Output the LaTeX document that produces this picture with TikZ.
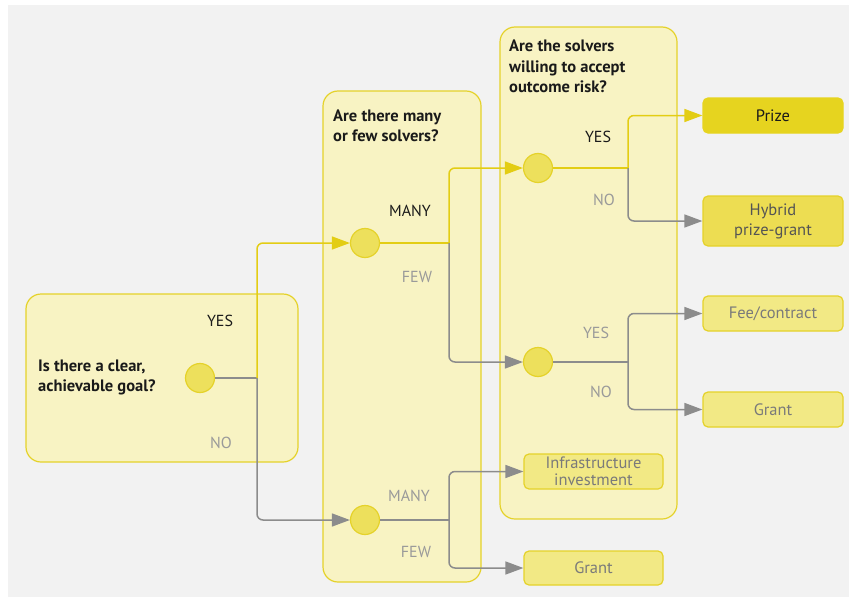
\documentclass[tikz,border=0pt]{standalone}
\usepackage{fontspec}
\setmainfont{PT Sans}
\usetikzlibrary{arrows.meta}
\definecolor{fond}{HTML}{F2F2F2}
\definecolor{panfill}{HTML}{F8F3C3}
\definecolor{jaune}{HTML}{E5D22A}
\definecolor{trait}{HTML}{E3CD14}
\definecolor{gris}{HTML}{8C8C8C}
\definecolor{rond}{HTML}{EDE05C}
\definecolor{fort}{HTML}{E6D41F}
\definecolor{moyen}{HTML}{EDDD52}
\definecolor{clair}{HTML}{F2E985}
\definecolor{noir}{HTML}{1A1A1A}
\definecolor{etiq}{HTML}{9A9A9A}
\tikzset{
  panneau/.style={draw=jaune,fill=panfill,line width=1.2pt,rounded corners=15pt},
  choix/.style={circle,draw=jaune,fill=rond,line width=1.2pt,minimum size=29pt,inner sep=0pt},
  issue/.style={draw=jaune,line width=1.2pt,rounded corners=5pt,minimum width=140pt,minimum height=35pt,inner sep=0pt,align=center,font=\fontsize{16.5}{20}\selectfont},
  question/.style={anchor=north west,inner sep=0pt,align=left,text=noir,font=\bfseries\fontsize{16.5}{20}\selectfont},
  oui/.style={text=noir,inner sep=0pt,font=\fontsize{16}{18}\selectfont},
  non/.style={text=etiq,inner sep=0pt,font=\fontsize{16}{18}\selectfont},
  fjaune/.style={draw=trait,line width=1.5pt,rounded corners=6pt,-{Triangle[length=18pt,width=13pt]}},
  fgris/.style={draw=gris,line width=1.5pt,rounded corners=6pt,-{Triangle[length=18pt,width=13pt]}},
}
\begin{document}
\begin{tikzpicture}[x=1pt,y=-1pt]
  \fill[white] (0,0) rectangle (849,597);
  \fill[fond] (8,5) rectangle (849,597);
  \useasboundingbox (0,0) rectangle (849,597);
  % les trois panneaux
  \draw[panneau] (26,294) rectangle (298,462);
  \draw[panneau] (323,91) rectangle (481,582);
  \draw[panneau] (500,27) rectangle (677,519);
  \node[question] (q1) at (38,360) {Is there a clear,\\achievable goal?};
  \node[question] (q2) at (333,110) {Are there many\\or few solvers?};
  \node[question,font=\bfseries\fontsize{16.5}{20.5}\selectfont] (q3) at (509,40) {Are the solvers\\willing to accept\\outcome risk?};
  % les ronds
  \node[choix] (c1) at (200,378) {};
  \node[choix] (c2) at (365,243) {};
  \node[choix] (c3) at (538,168) {};
  \node[choix] (c4) at (538,362) {};
  \node[choix] (c5) at (365,520) {};
  % les issues
  \node[issue,fill=fort,draw=fort,text=noir] (prize) at (773,115.5) {Prize};
  \node[issue,fill=moyen,text=black!67,minimum height=50pt] (hybrid) at (773,221) {Hybrid\\prize-grant};
  \node[issue,fill=clair,text=black!52] (fee) at (773,313.5) {Fee/contract};
  \node[issue,fill=clair,text=black!52] (granta) at (773,409.5) {Grant};
  \node[issue,fill=clair,text=black!52,minimum width=139pt,font=\fontsize{16.5}{17}\selectfont] (infra) at (593.5,471.5) {Infrastructure\\investment};
  \node[issue,fill=clair,text=black!52,minimum width=139pt,minimum height=34pt] (grantb) at (593.5,568) {Grant};
  % etiquettes
  \node[oui] (yes1) at (220,321) {YES};
  \node[non] (no1) at (221,443) {NO};
  \node[oui] (many1) at (410,211) {MANY};
  \node[non] (few1) at (417,277) {FEW};
  \node[oui] (yes2) at (598,137) {YES};
  \node[non] (no2) at (604,200) {NO};
  \node[non] (yes3) at (596,333) {YES};
  \node[non] (no3) at (601,392) {NO};
  \node[non] (many2) at (409,496) {MANY};
  \node[non] (few2) at (416,552) {FEW};
  % les embranchements
  \coordinate (j1) at (257,378);
  \coordinate (j2) at (449,243);
  \coordinate (j3) at (628,168);
  \coordinate (j4) at (628,362);
  \coordinate (j5) at (449,520);
  \draw[gris,line width=1.5pt] (c1) -- (j1);
  \draw[fgris] (j1) |- (c5);
  \draw[fjaune] (j1) |- (c2);
  \draw[trait,line width=1.5pt] (c2) -- (j2);
  \draw[fgris] (j2) |- (c4);
  \draw[fjaune] (j2) |- (c3);
  \draw[trait,line width=1.5pt] (c3) -- (j3);
  \draw[fgris] (j3) |- (hybrid);
  \draw[fjaune] (j3) |- (prize);
  \draw[gris,line width=1.5pt] (c4) -- (j4);
  \draw[fgris] (j4) |- (fee);
  \draw[fgris] (j4) |- (granta);
  \draw[gris,line width=1.5pt] (c5) -- (j5);
  \draw[fgris] (j5) |- (infra);
  \draw[fgris] (j5) |- (grantb);
\end{tikzpicture}
\end{document}
